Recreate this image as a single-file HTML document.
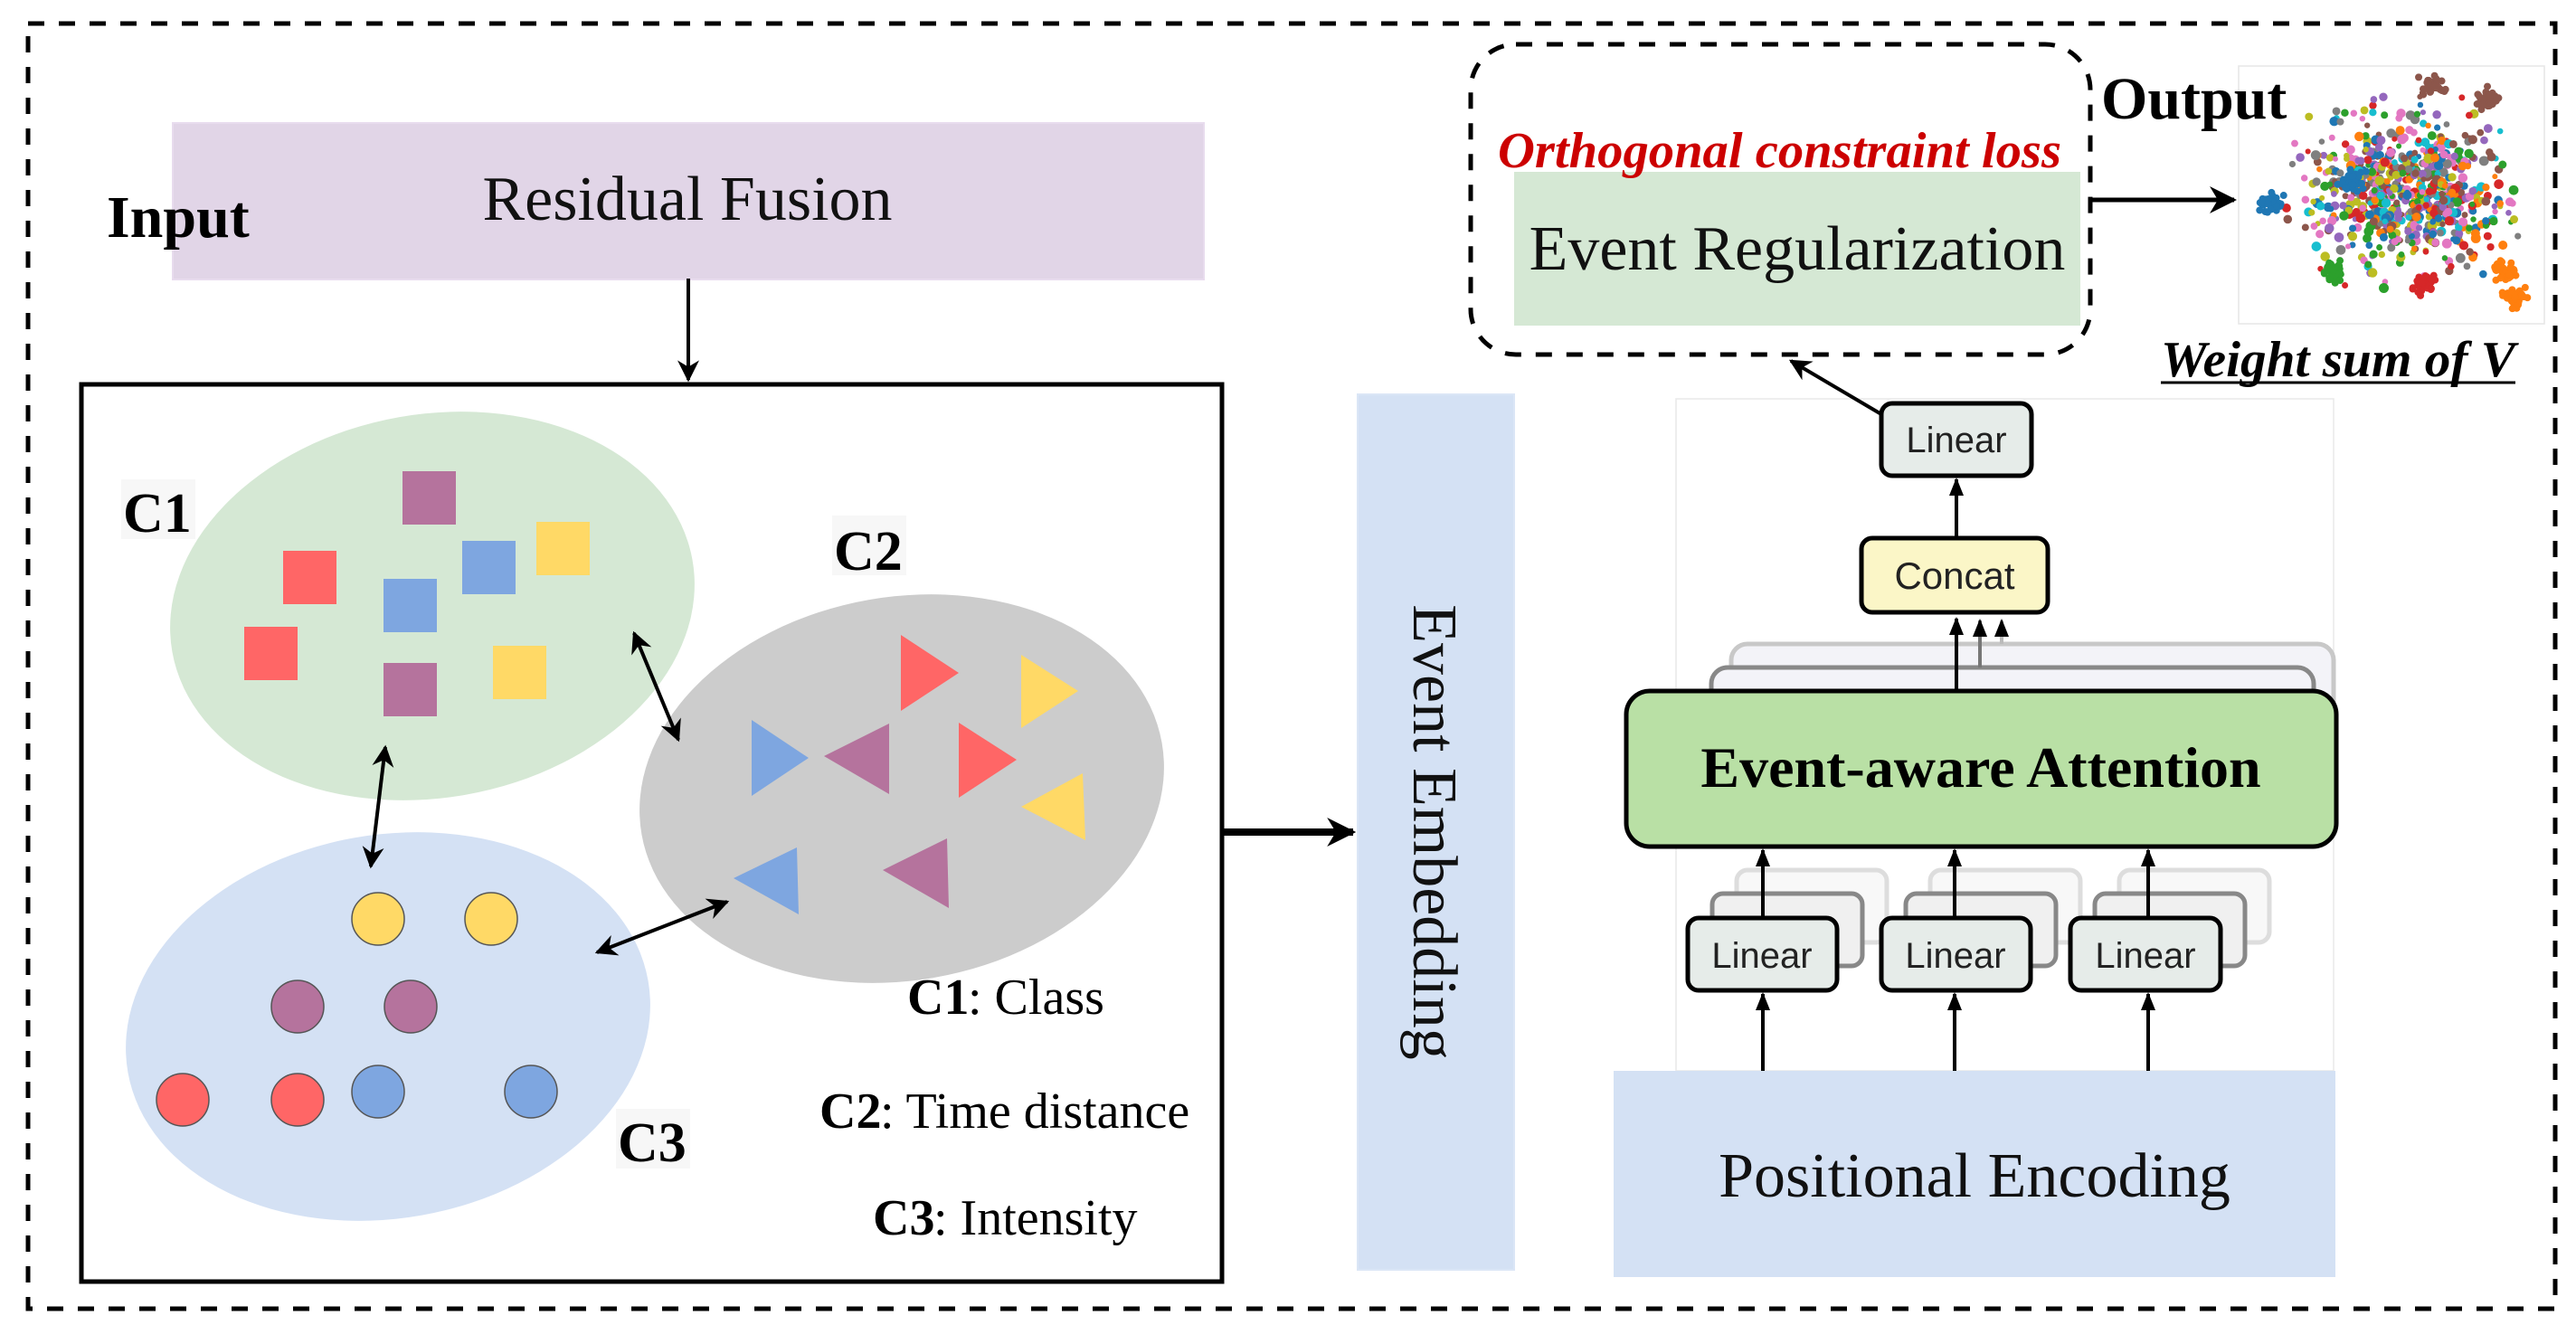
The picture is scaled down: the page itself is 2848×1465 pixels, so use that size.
<!DOCTYPE html>
<html><head><meta charset="utf-8"><style>
html,body{margin:0;padding:0;background:#fff;}
svg{display:block;}
</style></head><body>
<svg id="s" width="2848" height="1465" viewBox="0 0 2848 1465" xmlns="http://www.w3.org/2000/svg">
<defs>
<marker id="ah" viewBox="0 0 10 10" refX="9" refY="5" markerWidth="6" markerHeight="6" orient="auto-start-reverse" markerUnits="strokeWidth">
<path d="M0,0 L10,5 L0,10 L3,5 z" fill="#000"/></marker>
<marker id="ah2" viewBox="0 0 10 10" refX="9" refY="5" markerWidth="4" markerHeight="4" orient="auto-start-reverse" markerUnits="strokeWidth">
<path d="M0,0 L10,5 L0,10 L3,5 z" fill="#000"/></marker>
<marker id="ahs" viewBox="0 0 10 10" refX="9" refY="5" markerWidth="5" markerHeight="5" orient="auto" markerUnits="strokeWidth">
<path d="M0,1 L10,5 L0,9 z" fill="#000"/></marker>
</defs>
<rect width="2848" height="1465" fill="#fff"/>
<rect x="31" y="26" width="2794" height="1421" fill="none" stroke="#000" stroke-width="5" stroke-dasharray="18,16"/>

<rect x="191" y="136" width="1140" height="173" fill="#e1d5e7" stroke="#e8dcee" stroke-width="2"/>
<text x="760" y="243" text-anchor="middle" font-family="Liberation Serif, serif" font-size="70" fill="#111">Residual Fusion</text>
<text x="118" y="262" font-family="Liberation Serif, serif" font-size="66" font-weight="bold">Input</text>
<line x1="761" y1="308" x2="761" y2="420" stroke="#000" stroke-width="4" marker-end="url(#ah)"/>

<rect x="90" y="425" width="1261" height="992" fill="#fff" stroke="#000" stroke-width="5"/>

<ellipse cx="478" cy="670" rx="292" ry="212" fill="#d5e8d4" transform="rotate(-10 478 670)"/>
<ellipse cx="997" cy="872" rx="292" ry="212" fill="#cccccc" transform="rotate(-10 997 872)"/>
<ellipse cx="429" cy="1135" rx="292" ry="212" fill="#d4e1f4" transform="rotate(-10 429 1135)"/>

<g font-family="Liberation Serif, serif" font-size="62" font-weight="bold">
<rect x="134" y="530" width="82" height="66" fill="#f2f2f2" opacity="0.6"/>
<text x="136" y="588">C1</text>
<rect x="920" y="570" width="82" height="66" fill="#f2f2f2" opacity="0.6"/>
<text x="922" y="630">C2</text>
<rect x="681" y="1226" width="82" height="66" fill="#f2f2f2" opacity="0.6"/>
<text x="683" y="1284">C3</text>
</g>

<g>
<rect x="445" y="521" width="59" height="59" fill="#b5739d"/>
<rect x="313" y="609" width="59" height="59" fill="#ff6666"/>
<rect x="511" y="598" width="59" height="59" fill="#7ea6e0"/>
<rect x="593" y="577" width="59" height="59" fill="#ffd966"/>
<rect x="424" y="640" width="59" height="59" fill="#7ea6e0"/>
<rect x="270" y="693" width="59" height="59" fill="#ff6666"/>
<rect x="424" y="733" width="59" height="59" fill="#b5739d"/>
<rect x="545" y="714" width="59" height="59" fill="#ffd966"/>
</g>
<g>
<polygon points="996,702 1060,744 996,786" fill="#ff6666"/>
<polygon points="1129,724 1192,764 1129,805" fill="#ffd966"/>
<polygon points="831,796 894,838 831,880" fill="#7ea6e0"/>
<polygon points="983,800 911,836 983,878" fill="#b5739d"/>
<polygon points="1060,799 1124,840 1060,882" fill="#ff6666"/>
<polygon points="1129,892 1197,855 1200,929" fill="#ffd966"/>
<polygon points="881,937 811,971 883,1011" fill="#7ea6e0"/>
<polygon points="1047,927 976,962 1049,1004" fill="#b5739d"/>
</g>
<g stroke="#555" stroke-width="1.5">
<circle cx="418" cy="1016" r="29" fill="#ffd966"/>
<circle cx="543" cy="1016" r="29" fill="#ffd966"/>
<circle cx="329" cy="1113" r="29" fill="#b5739d"/>
<circle cx="454" cy="1113" r="29" fill="#b5739d"/>
<circle cx="202" cy="1216" r="29" fill="#ff6666"/>
<circle cx="329" cy="1216" r="29" fill="#ff6666"/>
<circle cx="418" cy="1207" r="29" fill="#7ea6e0"/>
<circle cx="587" cy="1207" r="29" fill="#7ea6e0"/>
</g>
<g stroke="#000" stroke-width="4" fill="none">
<line x1="701" y1="700" x2="750" y2="818" marker-start="url(#ah)" marker-end="url(#ah)"/>
<line x1="426" y1="826" x2="410" y2="958" marker-start="url(#ah)" marker-end="url(#ah)"/>
<line x1="660" y1="1053" x2="804" y2="997" marker-start="url(#ah)" marker-end="url(#ah)"/>
</g>
<g font-family="Liberation Serif, serif" font-size="56" font-weight="bold">
<text x="1003" y="1121">C1</text>
<text x="906" y="1247">C2</text>
<text x="965" y="1365">C3</text>
</g>
<g font-family="Liberation Serif, serif" font-size="56" font-weight="normal">
<text x="1070" y="1121">: Class</text>
<text x="973" y="1247">: Time distance</text>
<text x="1032" y="1365">: Intensity</text>
</g>

<line x1="1351" y1="920" x2="1496" y2="920" stroke="#000" stroke-width="8" marker-end="url(#ah2)"/>

<rect x="1501" y="436" width="173" height="968" fill="#d4e1f4" stroke="#dbe6f6" stroke-width="2"/>
<text transform="translate(1587,920) rotate(90)" text-anchor="middle" dy="24" font-family="Liberation Serif, serif" font-size="70" fill="#111">Event Embedding</text>

<rect x="1626" y="49" width="685" height="343" rx="50" fill="none" stroke="#000" stroke-width="5" stroke-dasharray="18,16"/>
<rect x="1674" y="190" width="626" height="170" fill="#d5e8d4"/>
<text x="1987" y="298" text-anchor="middle" font-family="Liberation Serif, serif" font-size="70" fill="#111">Event Regularization</text>
<text x="1656" y="185" font-family="Liberation Serif, serif" font-size="56" font-weight="bold" font-style="italic" fill="#cc0000" textLength="623" lengthAdjust="spacingAndGlyphs">Orthogonal constraint loss</text>
<line x1="2311" y1="221" x2="2470" y2="221" stroke="#000" stroke-width="5" marker-end="url(#ah)"/>
<rect x="2475" y="73" width="338" height="285" fill="#fff" stroke="#e6e6e6" stroke-width="1.5"/>
<g id="dots"></g>
<text x="2323" y="131" font-family="Liberation Serif, serif" font-size="66" font-weight="bold">Output</text>
<text x="2389" y="416" font-family="Liberation Serif, serif" font-size="56" font-weight="bold" font-style="italic" textLength="392" lengthAdjust="spacingAndGlyphs">Weight sum of V</text>
<line x1="2389" y1="423" x2="2781" y2="423" stroke="#000" stroke-width="3"/>

<rect x="1853" y="441" width="727" height="743" fill="#fff" stroke="#e8e8e8" stroke-width="1.5"/>
<rect x="2080" y="446" width="166" height="80" rx="12" fill="#e6ece9" stroke="#000" stroke-width="5"/>
<text x="2163" y="500" text-anchor="middle" font-family="Liberation Sans, sans-serif" font-size="40" fill="#222">Linear</text>
<line x1="2080" y1="458" x2="1980" y2="399" stroke="#000" stroke-width="4" marker-end="url(#ah)"/>
<rect x="2058" y="595" width="206" height="82" rx="12" fill="#fbf6c7" stroke="#000" stroke-width="5"/>
<text x="2161" y="651" text-anchor="middle" font-family="Liberation Sans, sans-serif" font-size="42" fill="#222">Concat</text>
<line x1="2163" y1="595" x2="2163" y2="530" stroke="#000" stroke-width="4" marker-end="url(#ahs)"/>
<rect x="1914" y="712" width="666" height="110" rx="18" fill="#f3f3f8" stroke="#c8c8c8" stroke-width="5"/>
<rect x="1892" y="738" width="666" height="110" rx="18" fill="#f3f3f8" stroke="#888" stroke-width="5"/>
<line x1="2213" y1="712" x2="2213" y2="686" stroke="#bbb" stroke-width="4" marker-end="url(#ahs)"/>
<line x1="2189" y1="738" x2="2189" y2="686" stroke="#777" stroke-width="4" marker-end="url(#ahs)"/>
<line x1="2163" y1="764" x2="2163" y2="684" stroke="#000" stroke-width="4" marker-end="url(#ahs)"/>
<rect x="1798" y="764" width="785" height="172" rx="26" fill="#b9e0a5" stroke="#000" stroke-width="5"/>
<text x="2190" y="870" text-anchor="middle" font-family="Liberation Serif, serif" font-size="64" font-weight="bold">Event-aware Attention</text>
<g>
<rect x="1920" y="962" width="166" height="80" rx="12" fill="#f8f8f8" stroke="#ddd" stroke-width="5"/>
<rect x="1893" y="988" width="166" height="80" rx="12" fill="#f0f0f0" stroke="#888" stroke-width="5"/>
<rect x="2134" y="962" width="166" height="80" rx="12" fill="#f8f8f8" stroke="#ddd" stroke-width="5"/>
<rect x="2107" y="988" width="166" height="80" rx="12" fill="#f0f0f0" stroke="#888" stroke-width="5"/>
<rect x="2343" y="962" width="166" height="80" rx="12" fill="#f8f8f8" stroke="#ddd" stroke-width="5"/>
<rect x="2316" y="988" width="166" height="80" rx="12" fill="#f0f0f0" stroke="#888" stroke-width="5"/>
</g>
<g stroke="#000" stroke-width="4">
<line x1="1949" y1="1015" x2="1949" y2="940" marker-end="url(#ahs)"/>
<line x1="2161" y1="1015" x2="2161" y2="940" marker-end="url(#ahs)"/>
<line x1="2375" y1="1015" x2="2375" y2="940" marker-end="url(#ahs)"/>
<line x1="1949" y1="1184" x2="1949" y2="1099" marker-end="url(#ahs)"/>
<line x1="2161" y1="1184" x2="2161" y2="1099" marker-end="url(#ahs)"/>
<line x1="2375" y1="1184" x2="2375" y2="1099" marker-end="url(#ahs)"/>
</g>
<g font-family="Liberation Sans, sans-serif" font-size="40" fill="#222" text-anchor="middle">
<rect x="1866" y="1015" width="165" height="80" rx="12" fill="#e6ece9" stroke="#000" stroke-width="5"/>
<text x="1948" y="1070">Linear</text>
<rect x="2080" y="1015" width="165" height="80" rx="12" fill="#e6ece9" stroke="#000" stroke-width="5"/>
<text x="2162" y="1070">Linear</text>
<rect x="2289" y="1015" width="166" height="80" rx="12" fill="#e6ece9" stroke="#000" stroke-width="5"/>
<text x="2372" y="1070">Linear</text>
</g>

<rect x="1784" y="1184" width="798" height="228" fill="#d4e1f4"/>
<text x="2183" y="1323" text-anchor="middle" font-family="Liberation Serif, serif" font-size="70" fill="#111">Positional Encoding</text>
</svg>
<script>
(function(){
var g=document.getElementById('dots');var ns='http://www.w3.org/2000/svg';
var seed=7;function r(){seed=(seed*16807)%2147483647;return (seed-1)/2147483646;}
function gs(){return (r()+r()+r()-1.5)/1.5;}
var cols=['#1f77b4','#ff7f0e','#2ca02c','#d62728','#9467bd','#8c564b','#e377c2','#7f7f7f','#bcbd22','#17becf'];
for(var i=0;i<700;i++){
 var x=2660+gs()*150,y=210+gs()*120;
 if(x<2482||x>2808||y<80||y>352)continue;
 var c=document.createElementNS(ns,'circle');c.setAttribute('cx',x);c.setAttribute('cy',y);c.setAttribute('r',3+r()*2.5);c.setAttribute('fill',cols[Math.floor(r()*10)]);g.appendChild(c);}
var cl=[[2510,225,'#1f77b4'],[2580,300,'#2ca02c'],[2680,315,'#d62728'],[2770,300,'#ff7f0e'],[2780,330,'#ff7f0e'],[2690,95,'#8c564b'],[2750,110,'#8c564b'],[2600,200,'#1f77b4']];
cl.forEach(function(k){for(var j=0;j<40;j++){var c=document.createElementNS(ns,'circle');c.setAttribute('cx',k[0]+gs()*20);c.setAttribute('cy',k[1]+gs()*16);c.setAttribute('r',4);c.setAttribute('fill',k[2]);g.appendChild(c);}});
})();
</script>
</body></html>
